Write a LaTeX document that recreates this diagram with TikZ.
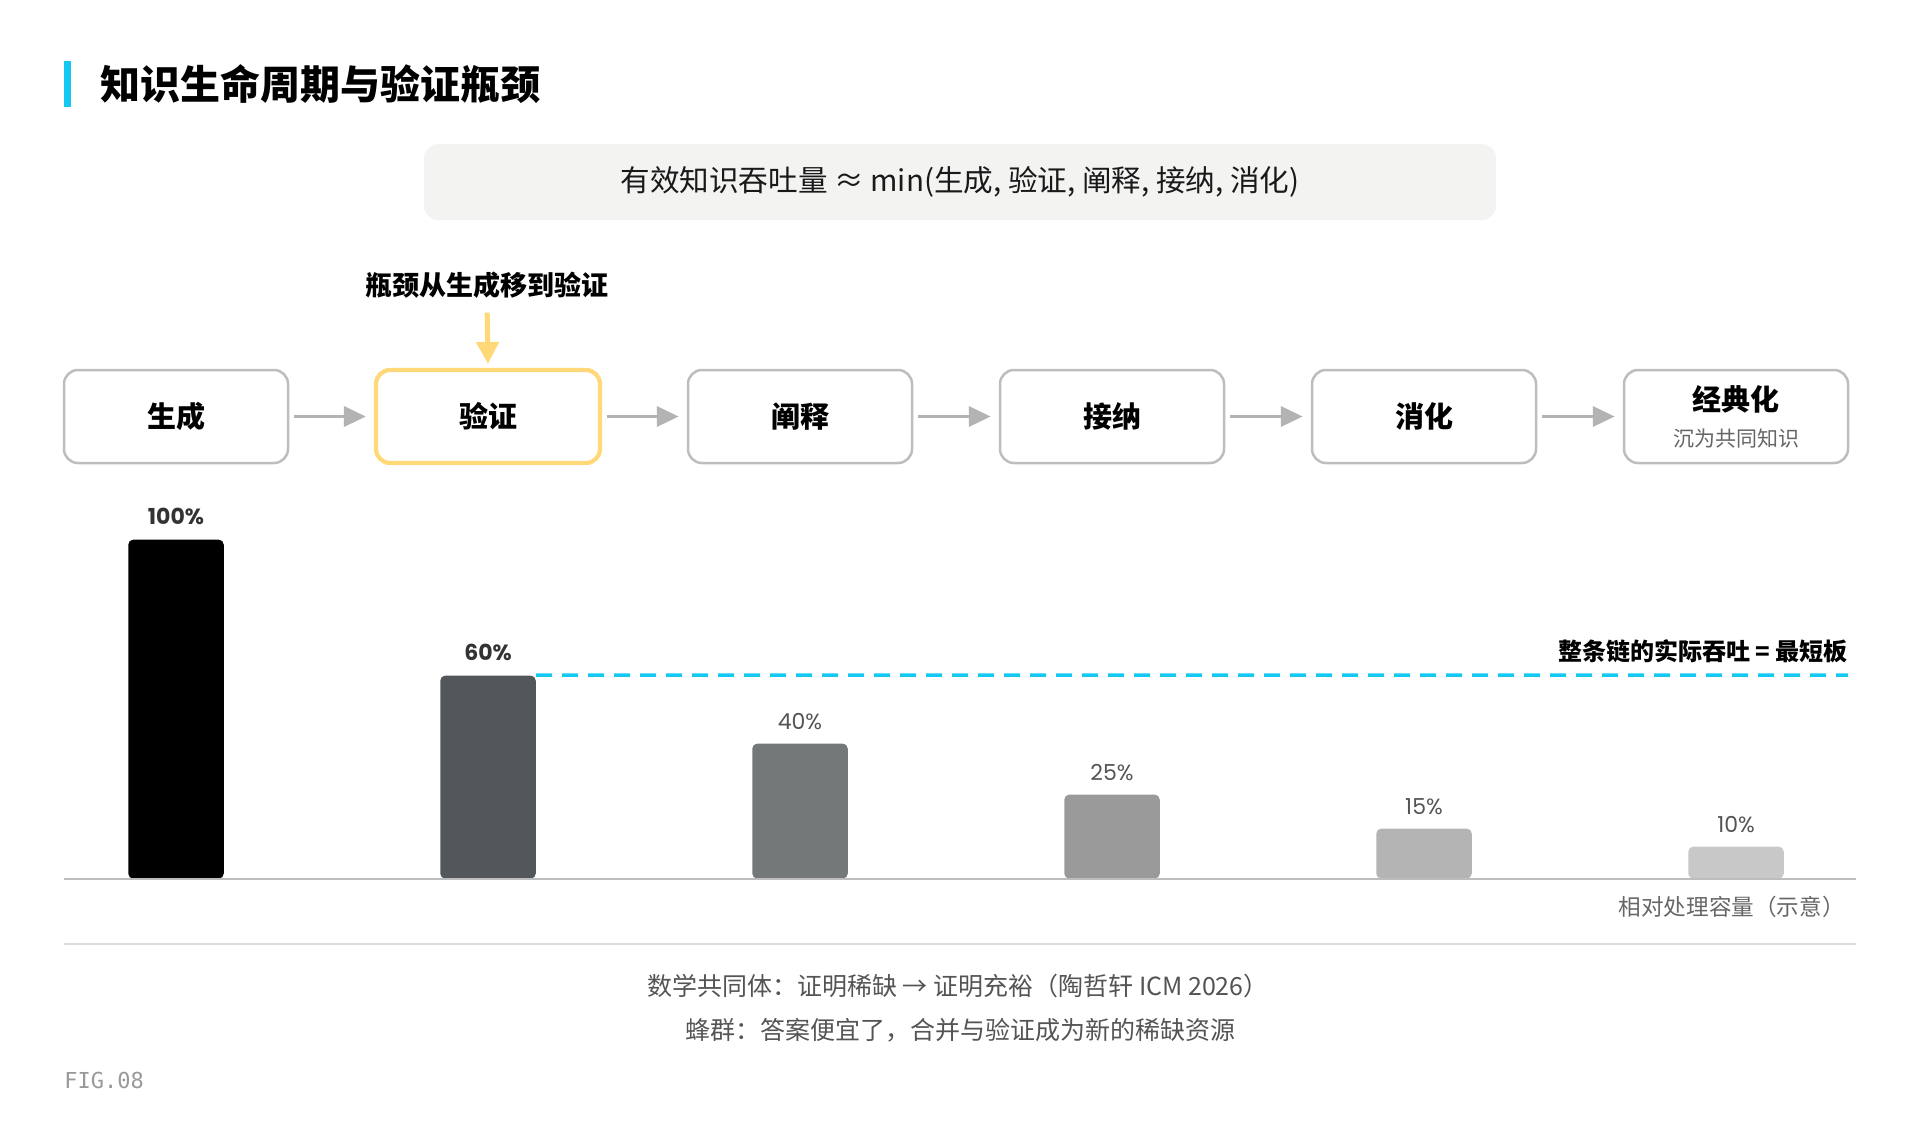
\documentclass[tikz,border=0pt]{standalone}
\usepackage{fontspec}
\setmainfont{Noto Sans CJK SC}
\newfontfamily\numfont{Poppins}
\newfontfamily\figfont{DejaVu Sans Mono}
\usetikzlibrary{arrows.meta,positioning}
\definecolor{cyanbar}{HTML}{14C8F2}
\definecolor{boxgray}{HTML}{BDBDBD}
\definecolor{arrgray}{HTML}{B3B3B3}
\definecolor{hiyellow}{HTML}{FFD878}
\definecolor{formbg}{HTML}{F3F3F2}
\definecolor{txtgray}{HTML}{666666}
\definecolor{rulegray}{HTML}{DDDDDA}
\definecolor{barA}{HTML}{000000}
\definecolor{barB}{HTML}{53575B}
\definecolor{barC}{HTML}{757878}
\definecolor{barD}{HTML}{9A9A9A}
\definecolor{barE}{HTML}{B4B4B4}
\definecolor{barF}{HTML}{C8C8C8}

\begin{document}
\begin{tikzpicture}[x=0.5pt,y=-0.5pt,
        stage/.style={draw=boxgray,line width=1.25pt,rounded corners=7pt,fill=white,
                      minimum width=112pt,minimum height=46.5pt,inner sep=0pt,align=center,
                      font=\fontsize{14.5}{17}\selectfont\bfseries},
        flow/.style={draw=arrgray,line width=1.8pt,-{Triangle[length=11pt,width=10pt]},
                     shorten <=2.5pt,shorten >=4pt},
        bar/.style={rounded corners=2.5pt,minimum width=47.75pt,inner sep=0pt,anchor=south},
        pct/.style={inner sep=0pt,text=black!67,font=\numfont\fontsize{11}{13}\selectfont},
        pctbold/.style={pct,text=black!80,font=\numfont\fontsize{11}{13}\selectfont\bfseries}]

        \useasboundingbox (0,0) rectangle (1920,1120);

        \fill[cyanbar] (64,61) rectangle (71,107);
        \node[anchor=west,inner sep=0pt,font=\fontsize{20}{24}\selectfont\bfseries] (title) at (100,84) {知识生命周期与验证瓶颈};

        \node[fill=formbg,rounded corners=7pt,minimum width=536pt,minimum height=38pt,
              text=black!90,font=\fontsize{14.8}{18}\selectfont] (formula) at (960,182)
              {有效知识吞吐量 ≈ min(生成, 验证, 阐释, 接纳, 消化)};

        \node[stage] (gen)   at (176,416.5)  {生成};
        \node[stage,draw=hiyellow,line width=2.1pt] (ver) at (488,416.5) {验证};
        \node[stage] (expl)  at (800,416.5)  {阐释};
        \node[stage] (accp)  at (1112,416.5) {接纳};
        \node[stage] (dige)  at (1424,416.5) {消化};
        \node[stage] (canon) at (1736,416.5) {经典化\\[1pt]{\fontsize{10.5}{13}\selectfont\mdseries\color{txtgray}沉为共同知识}};

        \draw[flow] (gen)  -- (ver);
        \draw[flow] (ver)  -- (expl);
        \draw[flow] (expl) -- (accp);
        \draw[flow] (accp) -- (dige);
        \draw[flow] (dige) -- (canon);

        \node[inner sep=0pt,font=\fontsize{13.5}{16}\selectfont\bfseries] (note) at (487,285) {瓶颈从生成移到验证};
        \draw[hiyellow,line width=2.5pt,-{Triangle[length=11pt,width=11pt]},shorten <=7pt,shorten >=2pt] (note.south) -- (ver.north);

        \node[bar,fill=barA,minimum height=169.5pt] (b1) at (176,879)  {};
        \node[bar,fill=barB,minimum height=101.5pt] (b2) at (488,879)  {};
        \node[bar,fill=barC,minimum height=67.5pt]  (b3) at (800,879)  {};
        \node[bar,fill=barD,minimum height=42pt]    (b4) at (1112,879) {};
        \node[bar,fill=barE,minimum height=25pt]    (b5) at (1424,879) {};
        \node[bar,fill=barF,minimum height=16pt]    (b6) at (1736,879) {};

        \node[pctbold,above=7pt of b1] (p1) {100\%};
        \node[pctbold,above=7pt of b2] (p2) {60\%};
        \node[pct,above=6.5pt of b3]   (p3) {40\%};
        \node[pct,above=6.5pt of b4]   (p4) {25\%};
        \node[pct,above=6.5pt of b5]   (p5) {15\%};
        \node[pct,above=6.5pt of b6]   (p6) {10\%};

        \coordinate (dashend) at (1848,675);
        \draw[cyanbar,line width=1.75pt,dash pattern=on 8pt off 5pt] (b2.north east) -- (dashend);
        \node[anchor=east,inner sep=0pt,font=\fontsize{12}{14}\selectfont\bfseries] (chain) at (1848,651) {整条链的实际吞吐 = 最短板};

        \coordinate (axl) at (64,879);
        \coordinate (axr) at (1856,879);
        \draw[boxgray,line width=1.25pt] (axl) -- (axr);
        \node[anchor=east,inner sep=0pt,text=txtgray,font=\fontsize{11.3}{14}\selectfont] (axis) at (1845,907) {相对处理容量（示意）};

        \draw[rulegray,line width=0.9pt] (64,944) -- (1856,944);

        \node[text=black!67,font=\fontsize{12.5}{15}\selectfont] (foot1) at (958,986)  {数学共同体：证明稀缺 → 证明充裕（陶哲轩 ICM 2026）};
        \node[text=black!67,font=\fontsize{12.5}{15}\selectfont] (foot2) at (960,1030) {蜂群：答案便宜了，合并与验证成为新的稀缺资源};

        \node[anchor=west,inner sep=0pt,text=black!40,font=\figfont\fontsize{11}{13}\selectfont] (fig) at (64,1080) {FIG.08};
\end{tikzpicture}
\end{document}
